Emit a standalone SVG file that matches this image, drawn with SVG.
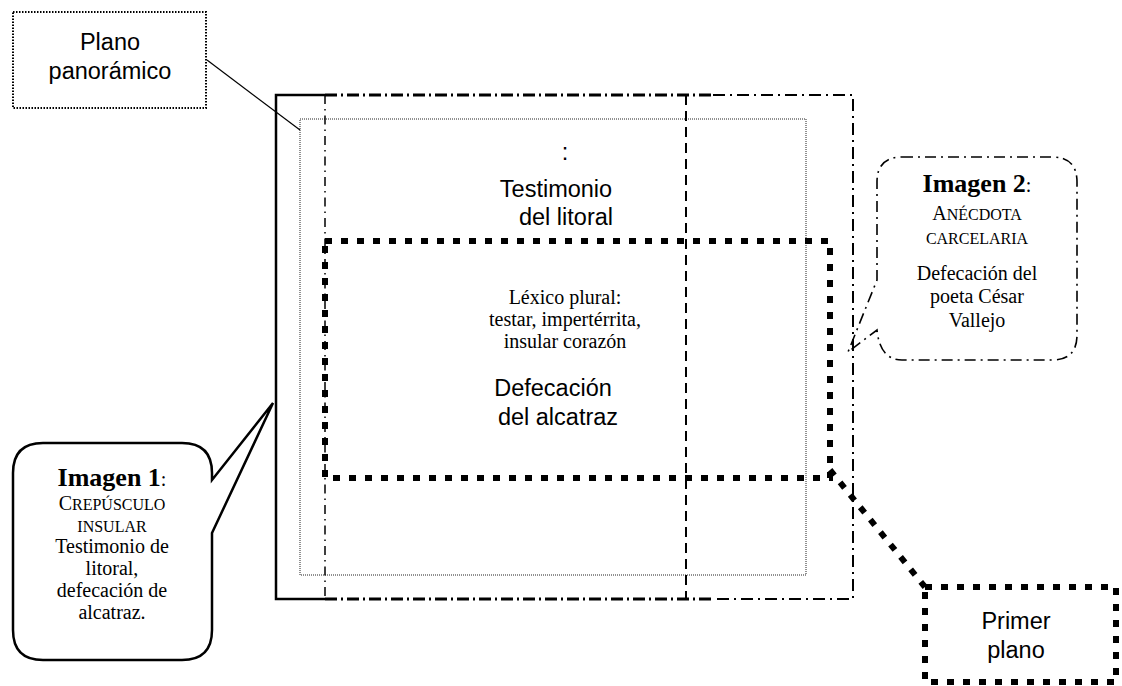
<svg xmlns="http://www.w3.org/2000/svg" width="1122" height="686" viewBox="0 0 1122 686">
<style>
.sans{font-family:"Liberation Sans",Arial,sans-serif;font-size:23.5px;fill:#000;text-anchor:middle}
.serif{font-family:"Liberation Serif","Times New Roman",serif;font-size:20px;fill:#000;text-anchor:middle}
.big{font-weight:bold;font-size:26px}
.sc{font-size:16px}
.thickdot{fill:none;stroke:#000;stroke-width:6;stroke-dasharray:7 9}
.finedot{fill:none;stroke:#000;stroke-width:2;stroke-dasharray:1.5 1.5}
</style>
<rect width="1122" height="686" fill="#fff"/>

<g id="frames">
  <rect x="300" y="119" width="506" height="456" fill="none" stroke="#222" stroke-width="1" stroke-dasharray="1 1"/>
  <path d="M325,95 H276 V599 H325" fill="none" stroke="#000" stroke-width="2.5"/>
  <path d="M325,95 H713" fill="none" stroke="#000" stroke-width="3" stroke-dasharray="12 4 2 4"/>
  <path d="M713,95 H853 V599 H713" fill="none" stroke="#000" stroke-width="2" stroke-dasharray="12 5 2 5"/>
  <path d="M325,599 H713" fill="none" stroke="#000" stroke-width="3" stroke-dasharray="12 4 2 4"/>
  <line x1="325" y1="95" x2="325" y2="599" stroke="#000" stroke-width="1.5" stroke-dasharray="9 5 1.5 5"/>
  <line x1="686" y1="95" x2="686" y2="599" stroke="#000" stroke-width="2" stroke-dasharray="10 6"/>
  <rect x="325" y="241" width="505" height="237" class="thickdot"/>
</g>

<g id="connectors">
  <line x1="207" y1="60" x2="300" y2="130" stroke="#000" stroke-width="1.2"/>
  <line x1="830" y1="470" x2="925" y2="587" class="thickdot"/>
</g>

<g id="plano-panoramico">
  <rect x="13" y="12" width="193" height="96" class="finedot"/>
  <text class="sans" x="110" y="50">Plano</text>
  <text class="sans" x="110" y="79">panorámico</text>
</g>

<g id="testimonio-litoral">
  <text class="sans" x="565" y="160">:</text>
  <text class="sans" x="556" y="197">Testimonio</text>
  <text class="sans" x="566" y="225">del litoral</text>
</g>

<g id="lexico">
  <text class="serif" x="565" y="304">Léxico plural:</text>
  <text class="serif" x="565" y="326">testar, impertérrita,</text>
  <text class="serif" x="565" y="348">insular corazón</text>
</g>

<g id="defecacion-alcatraz">
  <text class="sans" x="553" y="396">Defecación</text>
  <text class="sans" x="558" y="425">del alcatraz</text>
</g>

<g id="imagen2">
  <path d="M902,157 H1052 Q1077,157 1077,182 V335 Q1077,360 1052,360 H902 Q880,360 877,330 L848,352 L877,280 V182 Q877,157 902,157 Z" fill="none" stroke="#000" stroke-width="1.6" stroke-dasharray="11 5 2 5"/>
  <text class="serif" x="977" y="192"><tspan class="big">Imagen 2</tspan>:</text>
  <text class="serif" x="977" y="220">A<tspan class="sc">NÉCDOTA</tspan></text>
  <text class="serif" x="977" y="244"><tspan class="sc">CARCELARIA</tspan></text>
  <text class="serif" x="977" y="280">Defecación del</text>
  <text class="serif" x="977" y="303">poeta  César</text>
  <text class="serif" x="977" y="327">Vallejo</text>
</g>

<g id="imagen1">
  <path d="M43,443 H182 Q212,443 212,473 V480 L273,403 L212,533 V630 Q212,660 182,660 H43 Q13,660 13,630 V473 Q13,443 43,443 Z" fill="#fff" stroke="#000" stroke-width="2.5"/>
  <text class="serif" x="112" y="486"><tspan class="big">Imagen 1</tspan>:</text>
  <text class="serif" x="112" y="510">C<tspan class="sc">REPÚSCULO</tspan></text>
  <text class="serif" x="112" y="532"><tspan class="sc">INSULAR</tspan></text>
  <text class="serif" x="112" y="553">Testimonio de</text>
  <text class="serif" x="112" y="575">litoral,</text>
  <text class="serif" x="112" y="597">defecación  de</text>
  <text class="serif" x="112" y="619">alcatraz.</text>
</g>

<g id="primer-plano">
  <rect x="925" y="587" width="191" height="95" class="thickdot"/>
  <text class="sans" x="1016" y="629">Primer</text>
  <text class="sans" x="1016" y="658">plano</text>
</g>
</svg>
